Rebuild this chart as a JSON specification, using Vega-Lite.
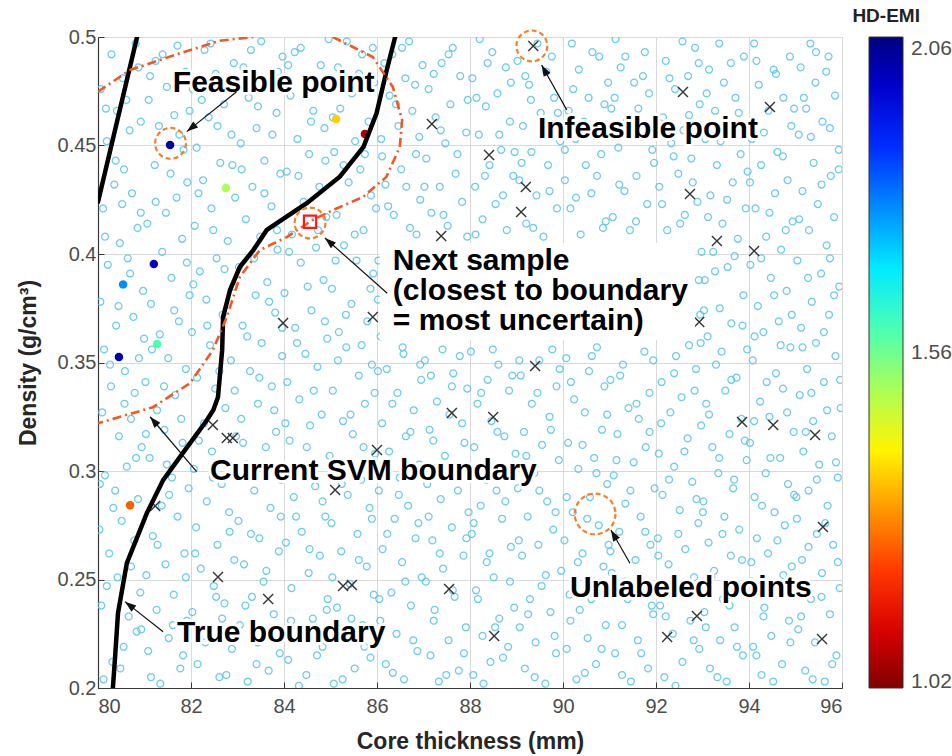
{
"$schema":"https://vega.github.io/schema/vega-lite/v6.json",
"width":744,"height":651,
"autosize":{"type":"none"},
"padding":{"left":98,"top":37,"right":110,"bottom":68},
"background":"white",
"config":{
 "view":{"stroke":null},
 "font":"Liberation Sans",
 "axis":{"gridColor":"#d9d9d9","gridWidth":1,"domainColor":"#3a3a3a","domainWidth":1.2,"tickColor":"#3a3a3a","tickSize":-6,"labelFont":"Liberation Sans","labelFontSize":20,"labelColor":"#4d4d4d","titleFont":"Liberation Sans","titleFontSize":23,"titleFontWeight":"bold","titleColor":"#262626"},
 "legend":{"orient":"none","legendX":771,"legendY":0,"gradientLength":651,"gradientThickness":34}
},
"datasets":{
"unlabeled":[
{"x":80.12,"y":0.204},{"x":80.55,"y":0.219},{"x":80.83,"y":0.226},{"x":80.31,"y":0.212},{"x":80.07,"y":0.238},{"x":80.66,"y":0.233},{"x":80.42,"y":0.251},{"x":80.91,"y":0.244},{"x":80.24,"y":0.262},{"x":80.78,"y":0.268},{"x":80.51,"y":0.277},{"x":80.03,"y":0.273},{"x":80.37,"y":0.291},{"x":80.86,"y":0.287},{"x":80.15,"y":0.298},{"x":80.62,"y":0.302},{"x":80.45,"y":0.316},{"x":80.94,"y":0.311},{"x":80.09,"y":0.327},{"x":80.71,"y":0.324},{"x":80.28,"y":0.339},{"x":80.58,"y":0.346},{"x":80.88,"y":0.352},{"x":80.13,"y":0.356},{"x":80.39,"y":0.367},{"x":80.76,"y":0.371},{"x":80.05,"y":0.378},{"x":80.97,"y":0.383},{"x":80.21,"y":0.395},{"x":80.64,"y":0.398},{"x":80.47,"y":0.405},{"x":80.85,"y":0.412},{"x":80.11,"y":0.421},{"x":80.35,"y":0.432},{"x":80.73,"y":0.428},{"x":80.56,"y":0.439},{"x":80.19,"y":0.452},{"x":80.68,"y":0.457},{"x":80.41,"y":0.466},{"x":80.92,"y":0.461},{"x":80.06,"y":0.476},{"x":80.53,"y":0.481},{"x":80.29,"y":0.492},{"x":80.81,"y":0.497},
{"x":81.34,"y":0.202},{"x":81.77,"y":0.209},{"x":81.08,"y":0.217},{"x":81.52,"y":0.223},{"x":81.91,"y":0.231},{"x":81.26,"y":0.236},{"x":81.63,"y":0.243},{"x":81.04,"y":0.252},{"x":81.45,"y":0.257},{"x":81.86,"y":0.262},{"x":81.18,"y":0.270},{"x":81.71,"y":0.279},{"x":81.37,"y":0.284},{"x":81.95,"y":0.292},{"x":81.59,"y":0.297},{"x":81.11,"y":0.306},{"x":81.82,"y":0.313},{"x":81.43,"y":0.319},{"x":81.27,"y":0.328},{"x":81.66,"y":0.335},{"x":81.02,"y":0.341},{"x":81.89,"y":0.347},{"x":81.51,"y":0.352},{"x":81.33,"y":0.363},{"x":81.74,"y":0.369},{"x":81.14,"y":0.377},{"x":81.97,"y":0.381},{"x":81.58,"y":0.389},{"x":81.38,"y":0.401},{"x":81.81,"y":0.407},{"x":81.06,"y":0.414},{"x":81.46,"y":0.419},{"x":81.69,"y":0.426},{"x":81.92,"y":0.433},{"x":81.22,"y":0.441},{"x":81.84,"y":0.448},{"x":81.31,"y":0.459},{"x":81.64,"y":0.464},{"x":81.09,"y":0.471},{"x":81.48,"y":0.477},{"x":81.88,"y":0.484},{"x":81.24,"y":0.489},{"x":81.71,"y":0.496},
{"x":82.61,"y":0.205},{"x":82.14,"y":0.211},{"x":82.88,"y":0.218},{"x":82.39,"y":0.227},{"x":82.03,"y":0.235},{"x":82.72,"y":0.239},{"x":82.49,"y":0.247},{"x":82.21,"y":0.255},{"x":82.93,"y":0.259},{"x":82.57,"y":0.266},{"x":82.11,"y":0.274},{"x":82.82,"y":0.281},{"x":82.34,"y":0.286},{"x":82.66,"y":0.294},{"x":82.06,"y":0.301},{"x":82.45,"y":0.309},{"x":82.97,"y":0.316},{"x":82.28,"y":0.322},{"x":82.74,"y":0.329},{"x":82.52,"y":0.338},{"x":82.13,"y":0.343},{"x":82.86,"y":0.351},{"x":82.41,"y":0.358},{"x":82.02,"y":0.364},{"x":82.68,"y":0.372},{"x":82.33,"y":0.379},{"x":82.91,"y":0.385},{"x":82.19,"y":0.392},{"x":82.55,"y":0.398},{"x":82.79,"y":0.406},{"x":82.08,"y":0.413},{"x":82.44,"y":0.421},{"x":82.95,"y":0.426},{"x":82.26,"y":0.434},{"x":82.63,"y":0.442},{"x":82.12,"y":0.449},{"x":82.87,"y":0.455},{"x":82.38,"y":0.463},{"x":82.71,"y":0.469},{"x":82.04,"y":0.476},{"x":82.53,"y":0.483},{"x":82.92,"y":0.488},{"x":82.29,"y":0.494},
{"x":83.22,"y":0.203},{"x":83.67,"y":0.208},{"x":83.91,"y":0.216},{"x":83.43,"y":0.221},{"x":83.05,"y":0.229},{"x":83.78,"y":0.234},{"x":83.31,"y":0.242},{"x":83.56,"y":0.249},{"x":83.14,"y":0.257},{"x":83.89,"y":0.263},{"x":83.47,"y":0.269},{"x":83.02,"y":0.277},{"x":83.71,"y":0.283},{"x":83.36,"y":0.291},{"x":83.94,"y":0.296},{"x":83.19,"y":0.303},{"x":83.61,"y":0.311},{"x":83.83,"y":0.318},{"x":83.08,"y":0.324},{"x":83.44,"y":0.331},{"x":83.74,"y":0.339},{"x":83.27,"y":0.346},{"x":83.96,"y":0.353},{"x":83.52,"y":0.359},{"x":83.11,"y":0.367},{"x":83.81,"y":0.373},{"x":83.39,"y":0.381},{"x":83.64,"y":0.387},{"x":83.03,"y":0.394},{"x":83.86,"y":0.402},{"x":83.49,"y":0.408},{"x":83.18,"y":0.416},{"x":83.73,"y":0.422},{"x":83.32,"y":0.431},{"x":83.92,"y":0.437},{"x":83.58,"y":0.443},{"x":83.07,"y":0.451},{"x":83.41,"y":0.458},{"x":83.84,"y":0.465},{"x":83.24,"y":0.472},{"x":83.66,"y":0.479},{"x":83.13,"y":0.486},{"x":83.97,"y":0.491},{"x":83.51,"y":0.498},
{"x":84.48,"y":0.206},{"x":84.09,"y":0.213},{"x":84.83,"y":0.219},{"x":84.27,"y":0.226},{"x":84.62,"y":0.232},{"x":84.94,"y":0.241},{"x":84.16,"y":0.246},{"x":84.53,"y":0.253},{"x":84.77,"y":0.261},{"x":84.04,"y":0.267},{"x":84.38,"y":0.272},{"x":84.89,"y":0.279},{"x":84.21,"y":0.288},{"x":84.67,"y":0.293},{"x":84.43,"y":0.299},{"x":84.98,"y":0.307},{"x":84.12,"y":0.314},{"x":84.56,"y":0.321},{"x":84.81,"y":0.326},{"x":84.33,"y":0.333},{"x":84.07,"y":0.341},{"x":84.72,"y":0.348},{"x":84.46,"y":0.354},{"x":84.93,"y":0.361},{"x":84.24,"y":0.366},{"x":84.59,"y":0.374},{"x":84.01,"y":0.382},{"x":84.85,"y":0.388},{"x":84.36,"y":0.396},{"x":84.69,"y":0.403},{"x":84.17,"y":0.409},{"x":84.91,"y":0.417},{"x":84.42,"y":0.424},{"x":84.76,"y":0.431},{"x":84.06,"y":0.438},{"x":84.54,"y":0.446},{"x":84.29,"y":0.453},{"x":84.87,"y":0.458},{"x":84.63,"y":0.466},{"x":84.14,"y":0.473},{"x":84.47,"y":0.481},{"x":84.79,"y":0.487},{"x":84.23,"y":0.493},{"x":84.96,"y":0.499},
{"x":85.07,"y":0.202},{"x":85.52,"y":0.209},{"x":85.86,"y":0.214},{"x":85.31,"y":0.222},{"x":85.69,"y":0.229},{"x":85.14,"y":0.237},{"x":85.93,"y":0.243},{"x":85.42,"y":0.248},{"x":85.78,"y":0.256},{"x":85.23,"y":0.263},{"x":85.58,"y":0.271},{"x":85.02,"y":0.276},{"x":85.84,"y":0.283},{"x":85.37,"y":0.289},{"x":85.66,"y":0.296},{"x":85.11,"y":0.304},{"x":85.96,"y":0.308},{"x":85.48,"y":0.317},{"x":85.27,"y":0.323},{"x":85.74,"y":0.331},{"x":85.05,"y":0.337},{"x":85.61,"y":0.344},{"x":85.89,"y":0.349},{"x":85.34,"y":0.357},{"x":85.18,"y":0.364},{"x":85.79,"y":0.369},{"x":85.45,"y":0.377},{"x":85.03,"y":0.384},{"x":85.92,"y":0.391},{"x":85.56,"y":0.397},{"x":85.29,"y":0.404},{"x":85.71,"y":0.411},{"x":85.13,"y":0.418},{"x":85.87,"y":0.427},{"x":85.39,"y":0.433},{"x":85.64,"y":0.439},{"x":85.08,"y":0.447},{"x":85.53,"y":0.452},{"x":85.82,"y":0.461},{"x":85.21,"y":0.467},{"x":85.46,"y":0.474},{"x":85.94,"y":0.479},{"x":85.16,"y":0.486},{"x":85.68,"y":0.492},{"x":85.35,"y":0.498},
{"x":86.58,"y":0.204},{"x":86.19,"y":0.211},{"x":86.87,"y":0.217},{"x":86.42,"y":0.225},{"x":86.07,"y":0.231},{"x":86.73,"y":0.238},{"x":86.31,"y":0.244},{"x":86.96,"y":0.251},{"x":86.54,"y":0.258},{"x":86.12,"y":0.264},{"x":86.83,"y":0.269},{"x":86.38,"y":0.278},{"x":86.67,"y":0.284},{"x":86.04,"y":0.291},{"x":86.49,"y":0.297},{"x":86.91,"y":0.303},{"x":86.26,"y":0.309},{"x":86.62,"y":0.316},{"x":86.11,"y":0.322},{"x":86.79,"y":0.328},{"x":86.44,"y":0.336},{"x":86.95,"y":0.342},{"x":86.21,"y":0.347},{"x":86.57,"y":0.354},{"x":86.08,"y":0.362},{"x":86.02,"y":0.379},{"x":86.03,"y":0.397},{"x":86.71,"y":0.412},{"x":86.36,"y":0.418},{"x":86.93,"y":0.425},{"x":86.18,"y":0.432},{"x":86.52,"y":0.439},{"x":86.84,"y":0.446},{"x":86.09,"y":0.453},{"x":86.46,"y":0.459},{"x":86.76,"y":0.466},{"x":86.27,"y":0.473},{"x":86.61,"y":0.481},{"x":86.98,"y":0.487},{"x":86.33,"y":0.492},{"x":86.69,"y":0.498},
{"x":87.33,"y":0.203},{"x":87.76,"y":0.208},{"x":87.15,"y":0.215},{"x":87.54,"y":0.222},{"x":87.91,"y":0.228},{"x":87.24,"y":0.236},{"x":87.67,"y":0.242},{"x":87.05,"y":0.249},{"x":87.42,"y":0.255},{"x":87.86,"y":0.261},{"x":87.19,"y":0.268},{"x":87.61,"y":0.274},{"x":87.97,"y":0.281},{"x":87.37,"y":0.287},{"x":87.08,"y":0.294},{"x":87.72,"y":0.301},{"x":87.46,"y":0.307},{"x":87.88,"y":0.313},{"x":87.13,"y":0.319},{"x":87.56,"y":0.326},{"x":87.29,"y":0.332},{"x":87.94,"y":0.338},{"x":87.64,"y":0.345},{"x":87.03,"y":0.351},{"x":87.41,"y":0.356},{"x":87.52,"y":0.413},{"x":87.17,"y":0.419},{"x":87.83,"y":0.424},{"x":87.35,"y":0.431},{"x":87.69,"y":0.437},{"x":87.06,"y":0.444},{"x":87.47,"y":0.451},{"x":87.92,"y":0.456},{"x":87.26,"y":0.463},{"x":87.58,"y":0.469},{"x":87.11,"y":0.476},{"x":87.79,"y":0.482},{"x":87.39,"y":0.488},{"x":87.63,"y":0.495},
{"x":88.07,"y":0.206},{"x":88.44,"y":0.212},{"x":88.82,"y":0.219},{"x":88.27,"y":0.224},{"x":88.63,"y":0.232},{"x":88.95,"y":0.237},{"x":88.13,"y":0.245},{"x":88.51,"y":0.251},{"x":88.36,"y":0.258},{"x":88.88,"y":0.265},{"x":88.04,"y":0.271},{"x":88.69,"y":0.278},{"x":88.23,"y":0.284},{"x":88.57,"y":0.291},{"x":88.92,"y":0.297},{"x":88.31,"y":0.303},{"x":88.09,"y":0.311},{"x":88.74,"y":0.316},{"x":88.46,"y":0.323},{"x":88.16,"y":0.331},{"x":88.84,"y":0.337},{"x":88.38,"y":0.342},{"x":88.61,"y":0.349},{"x":88.02,"y":0.355},{"x":88.79,"y":0.411},{"x":88.27,"y":0.416},{"x":88.55,"y":0.423},{"x":88.11,"y":0.431},{"x":88.93,"y":0.436},{"x":88.42,"y":0.441},{"x":88.67,"y":0.448},{"x":88.19,"y":0.455},{"x":88.86,"y":0.461},{"x":88.34,"y":0.468},{"x":88.59,"y":0.474},{"x":88.05,"y":0.481},{"x":88.77,"y":0.486},{"x":88.48,"y":0.493},{"x":88.21,"y":0.499},
{"x":89.62,"y":0.202},{"x":89.18,"y":0.209},{"x":89.85,"y":0.216},{"x":89.41,"y":0.221},{"x":89.07,"y":0.228},{"x":89.73,"y":0.235},{"x":89.29,"y":0.241},{"x":89.54,"y":0.247},{"x":89.96,"y":0.254},{"x":89.12,"y":0.261},{"x":89.47,"y":0.266},{"x":89.79,"y":0.273},{"x":89.24,"y":0.279},{"x":89.66,"y":0.286},{"x":89.03,"y":0.292},{"x":89.38,"y":0.299},{"x":89.91,"y":0.305},{"x":89.55,"y":0.312},{"x":89.16,"y":0.318},{"x":89.71,"y":0.325},{"x":89.33,"y":0.331},{"x":89.86,"y":0.339},{"x":89.09,"y":0.344},{"x":89.49,"y":0.351},{"x":89.77,"y":0.356},{"x":89.58,"y":0.408},{"x":89.21,"y":0.414},{"x":89.87,"y":0.421},{"x":89.43,"y":0.427},{"x":89.06,"y":0.434},{"x":89.68,"y":0.441},{"x":89.32,"y":0.447},{"x":89.94,"y":0.452},{"x":89.14,"y":0.459},{"x":89.52,"y":0.465},{"x":89.81,"y":0.472},{"x":89.27,"y":0.478},{"x":89.64,"y":0.484},{"x":89.02,"y":0.489},{"x":89.45,"y":0.497},
{"x":90.29,"y":0.204},{"x":90.71,"y":0.211},{"x":90.08,"y":0.218},{"x":90.53,"y":0.223},{"x":90.92,"y":0.229},{"x":90.36,"y":0.236},{"x":90.14,"y":0.243},{"x":90.64,"y":0.249},{"x":90.87,"y":0.256},{"x":90.42,"y":0.262},{"x":90.03,"y":0.268},{"x":90.77,"y":0.275},{"x":90.21,"y":0.281},{"x":90.58,"y":0.288},{"x":90.95,"y":0.294},{"x":90.33,"y":0.301},{"x":90.67,"y":0.306},{"x":90.11,"y":0.313},{"x":90.84,"y":0.319},{"x":90.47,"y":0.327},{"x":90.24,"y":0.333},{"x":90.89,"y":0.339},{"x":90.56,"y":0.346},{"x":90.07,"y":0.352},{"x":90.73,"y":0.357},{"x":90.38,"y":0.409},{"x":90.92,"y":0.415},{"x":90.16,"y":0.421},{"x":90.61,"y":0.428},{"x":90.04,"y":0.434},{"x":90.49,"y":0.441},{"x":90.82,"y":0.446},{"x":90.27,"y":0.453},{"x":90.69,"y":0.459},{"x":90.12,"y":0.466},{"x":90.55,"y":0.472},{"x":90.97,"y":0.479},{"x":90.34,"y":0.485},{"x":90.78,"y":0.491},{"x":90.19,"y":0.497},
{"x":91.46,"y":0.203},{"x":91.83,"y":0.209},{"x":91.12,"y":0.216},{"x":91.61,"y":0.222},{"x":91.27,"y":0.229},{"x":91.94,"y":0.234},{"x":91.39,"y":0.241},{"x":91.72,"y":0.248},{"x":91.05,"y":0.253},{"x":91.56,"y":0.259},{"x":91.88,"y":0.266},{"x":91.21,"y":0.272},{"x":91.67,"y":0.279},{"x":91.34,"y":0.285},{"x":91.97,"y":0.292},{"x":91.09,"y":0.298},{"x":91.52,"y":0.304},{"x":91.78,"y":0.311},{"x":91.17,"y":0.317},{"x":91.63,"y":0.324},{"x":91.41,"y":0.329},{"x":91.86,"y":0.336},{"x":91.02,"y":0.342},{"x":91.29,"y":0.349},{"x":91.75,"y":0.355},{"x":91.44,"y":0.411},{"x":91.07,"y":0.417},{"x":91.81,"y":0.423},{"x":91.32,"y":0.429},{"x":91.58,"y":0.436},{"x":91.96,"y":0.442},{"x":91.19,"y":0.449},{"x":91.69,"y":0.454},{"x":91.37,"y":0.461},{"x":91.04,"y":0.467},{"x":91.85,"y":0.474},{"x":91.53,"y":0.479},{"x":91.24,"y":0.486},{"x":91.76,"y":0.493},{"x":91.13,"y":0.499},
{"x":92.18,"y":0.205},{"x":92.57,"y":0.212},{"x":92.93,"y":0.218},{"x":92.36,"y":0.225},{"x":92.74,"y":0.231},{"x":92.09,"y":0.238},{"x":92.45,"y":0.244},{"x":92.82,"y":0.251},{"x":92.27,"y":0.257},{"x":92.63,"y":0.264},{"x":92.04,"y":0.269},{"x":92.91,"y":0.276},{"x":92.51,"y":0.282},{"x":92.14,"y":0.289},{"x":92.78,"y":0.295},{"x":92.39,"y":0.302},{"x":92.06,"y":0.308},{"x":92.68,"y":0.315},{"x":92.97,"y":0.321},{"x":92.31,"y":0.327},{"x":92.55,"y":0.334},{"x":92.12,"y":0.341},{"x":92.86,"y":0.347},{"x":92.43,"y":0.353},{"x":92.71,"y":0.358},{"x":92.95,"y":0.372},{"x":92.92,"y":0.388},{"x":92.98,"y":0.401},{"x":92.24,"y":0.411},{"x":92.62,"y":0.418},{"x":92.89,"y":0.424},{"x":92.07,"y":0.431},{"x":92.48,"y":0.437},{"x":92.76,"y":0.444},{"x":92.33,"y":0.451},{"x":92.59,"y":0.457},{"x":92.15,"y":0.463},{"x":92.94,"y":0.469},{"x":92.41,"y":0.476},{"x":92.69,"y":0.482},{"x":92.21,"y":0.489},{"x":92.84,"y":0.495},
{"x":93.52,"y":0.203},{"x":93.16,"y":0.209},{"x":93.87,"y":0.215},{"x":93.38,"y":0.222},{"x":93.69,"y":0.228},{"x":93.04,"y":0.235},{"x":93.44,"y":0.241},{"x":93.91,"y":0.247},{"x":93.25,"y":0.254},{"x":93.61,"y":0.261},{"x":93.13,"y":0.267},{"x":93.79,"y":0.273},{"x":93.47,"y":0.279},{"x":93.02,"y":0.286},{"x":93.66,"y":0.292},{"x":93.34,"y":0.299},{"x":93.95,"y":0.305},{"x":93.21,"y":0.311},{"x":93.58,"y":0.317},{"x":93.84,"y":0.324},{"x":93.08,"y":0.331},{"x":93.49,"y":0.337},{"x":93.73,"y":0.343},{"x":93.29,"y":0.349},{"x":93.96,"y":0.356},{"x":93.11,"y":0.362},{"x":93.62,"y":0.368},{"x":93.37,"y":0.375},{"x":93.88,"y":0.381},{"x":93.05,"y":0.388},{"x":93.54,"y":0.394},{"x":93.23,"y":0.401},{"x":93.76,"y":0.407},{"x":93.43,"y":0.414},{"x":93.93,"y":0.421},{"x":93.17,"y":0.427},{"x":93.65,"y":0.433},{"x":93.31,"y":0.441},{"x":93.82,"y":0.446},{"x":93.06,"y":0.453},{"x":93.57,"y":0.459},{"x":93.27,"y":0.466},{"x":93.71,"y":0.472},{"x":93.46,"y":0.479},{"x":93.14,"y":0.485},{"x":93.89,"y":0.491},{"x":93.36,"y":0.497},
{"x":94.27,"y":0.206},{"x":94.71,"y":0.211},{"x":94.09,"y":0.219},{"x":94.48,"y":0.224},{"x":94.86,"y":0.231},{"x":94.33,"y":0.237},{"x":94.62,"y":0.243},{"x":94.04,"y":0.249},{"x":94.92,"y":0.256},{"x":94.41,"y":0.262},{"x":94.17,"y":0.269},{"x":94.77,"y":0.275},{"x":94.55,"y":0.281},{"x":94.12,"y":0.288},{"x":94.84,"y":0.294},{"x":94.36,"y":0.299},{"x":94.67,"y":0.306},{"x":94.02,"y":0.313},{"x":94.96,"y":0.318},{"x":94.44,"y":0.325},{"x":94.24,"y":0.332},{"x":94.73,"y":0.338},{"x":94.58,"y":0.345},{"x":94.08,"y":0.351},{"x":94.89,"y":0.357},{"x":94.31,"y":0.364},{"x":94.64,"y":0.369},{"x":94.19,"y":0.376},{"x":94.81,"y":0.383},{"x":94.47,"y":0.389},{"x":94.03,"y":0.395},{"x":94.69,"y":0.402},{"x":94.37,"y":0.408},{"x":94.94,"y":0.415},{"x":94.14,"y":0.421},{"x":94.56,"y":0.428},{"x":94.83,"y":0.434},{"x":94.26,"y":0.441},{"x":94.61,"y":0.447},{"x":94.06,"y":0.453},{"x":94.91,"y":0.459},{"x":94.42,"y":0.466},{"x":94.74,"y":0.472},{"x":94.21,"y":0.478},{"x":94.53,"y":0.485},{"x":94.88,"y":0.491},{"x":94.11,"y":0.497},
{"x":95.63,"y":0.203},{"x":95.21,"y":0.208},{"x":95.88,"y":0.215},{"x":95.42,"y":0.221},{"x":95.06,"y":0.227},{"x":95.74,"y":0.234},{"x":95.33,"y":0.241},{"x":95.95,"y":0.246},{"x":95.57,"y":0.253},{"x":95.14,"y":0.259},{"x":95.81,"y":0.266},{"x":95.46,"y":0.271},{"x":95.03,"y":0.278},{"x":95.69,"y":0.284},{"x":95.28,"y":0.291},{"x":95.91,"y":0.297},{"x":95.51,"y":0.303},{"x":95.17,"y":0.309},{"x":95.78,"y":0.316},{"x":95.38,"y":0.323},{"x":95.97,"y":0.329},{"x":95.09,"y":0.335},{"x":95.61,"y":0.341},{"x":95.25,"y":0.347},{"x":95.86,"y":0.353},{"x":95.44,"y":0.359},{"x":95.12,"y":0.366},{"x":95.72,"y":0.372},{"x":95.35,"y":0.378},{"x":95.94,"y":0.385},{"x":95.55,"y":0.391},{"x":95.04,"y":0.397},{"x":95.67,"y":0.404},{"x":95.29,"y":0.411},{"x":95.83,"y":0.417},{"x":95.48,"y":0.423},{"x":95.15,"y":0.429},{"x":95.76,"y":0.436},{"x":95.39,"y":0.442},{"x":95.93,"y":0.448},{"x":95.07,"y":0.455},{"x":95.58,"y":0.461},{"x":95.23,"y":0.467},{"x":95.85,"y":0.473},{"x":95.43,"y":0.479},{"x":95.11,"y":0.486},{"x":95.71,"y":0.491},{"x":95.32,"y":0.497},
{"x":80.48,"y":0.209},{"x":80.93,"y":0.227},{"x":80.19,"y":0.247},{"x":80.71,"y":0.256},{"x":80.33,"y":0.283},{"x":80.04,"y":0.294},{"x":80.82,"y":0.306},{"x":80.57,"y":0.331},{"x":80.26,"y":0.349},{"x":80.99,"y":0.361},{"x":80.44,"y":0.376},{"x":80.69,"y":0.391},{"x":80.15,"y":0.408},{"x":80.92,"y":0.419},{"x":80.38,"y":0.443},{"x":80.61,"y":0.471},{"x":80.87,"y":0.486},{"x":80.17,"y":0.467},{"x":80.52,"y":0.423},{"x":80.79,"y":0.336},
{"x":81.14,"y":0.205},{"x":81.61,"y":0.229},{"x":81.89,"y":0.251},{"x":81.28,"y":0.266},{"x":81.53,"y":0.289},{"x":81.03,"y":0.317},{"x":81.79,"y":0.324},{"x":81.42,"y":0.339},{"x":81.16,"y":0.356},{"x":81.64,"y":0.374},{"x":81.91,"y":0.396},{"x":81.24,"y":0.424},{"x":81.56,"y":0.437},{"x":81.75,"y":0.455},{"x":81.12,"y":0.482},{"x":81.39,"y":0.492},{"x":81.97,"y":0.466},{"x":81.48,"y":0.303},{"x":81.83,"y":0.215},
{"x":82.76,"y":0.206},{"x":82.31,"y":0.221},{"x":82.54,"y":0.242},{"x":82.09,"y":0.262},{"x":82.83,"y":0.272},{"x":82.47,"y":0.297},{"x":82.17,"y":0.314},{"x":82.94,"y":0.337},{"x":82.61,"y":0.346},{"x":82.35,"y":0.367},{"x":82.05,"y":0.386},{"x":82.72,"y":0.393},{"x":82.48,"y":0.411},{"x":82.16,"y":0.428},{"x":82.89,"y":0.441},{"x":82.57,"y":0.459},{"x":82.23,"y":0.471},{"x":82.81,"y":0.479},{"x":82.42,"y":0.497},{"x":82.67,"y":0.232},
{"x":83.41,"y":0.211},{"x":83.84,"y":0.225},{"x":83.17,"y":0.238},{"x":83.62,"y":0.254},{"x":83.29,"y":0.271},{"x":83.93,"y":0.279},{"x":83.54,"y":0.302},{"x":83.12,"y":0.313},{"x":83.79,"y":0.328},{"x":83.47,"y":0.343},{"x":83.21,"y":0.362},{"x":83.96,"y":0.366},{"x":83.68,"y":0.378},{"x":83.36,"y":0.398},{"x":83.85,"y":0.411},{"x":83.58,"y":0.428},{"x":83.09,"y":0.439},{"x":83.75,"y":0.455},{"x":83.44,"y":0.468},{"x":83.87,"y":0.484},{"x":83.29,"y":0.494},
{"x":84.32,"y":0.201},{"x":84.71,"y":0.215},{"x":84.15,"y":0.231},{"x":84.92,"y":0.236},{"x":84.55,"y":0.264},{"x":84.26,"y":0.279},{"x":84.83,"y":0.286},{"x":84.49,"y":0.311},{"x":84.03,"y":0.322},{"x":84.64,"y":0.337},{"x":84.28,"y":0.359},{"x":84.88,"y":0.369},{"x":84.51,"y":0.385},{"x":84.11,"y":0.401},{"x":84.73,"y":0.411},{"x":84.31,"y":0.436},{"x":84.89,"y":0.443},{"x":84.58,"y":0.461},{"x":84.09,"y":0.487},{"x":84.36,"y":0.495},{"x":84.72,"y":0.476},
{"x":85.26,"y":0.204},{"x":85.73,"y":0.219},{"x":85.45,"y":0.232},{"x":85.04,"y":0.251},{"x":85.61,"y":0.259},{"x":85.89,"y":0.278},{"x":85.24,"y":0.294},{"x":85.71,"y":0.311},{"x":85.43,"y":0.326},{"x":85.95,"y":0.336},{"x":85.16,"y":0.351},{"x":85.67,"y":0.358},{"x":85.33,"y":0.372},{"x":85.86,"y":0.384},{"x":85.11,"y":0.397},{"x":85.52,"y":0.409},{"x":85.98,"y":0.421},{"x":85.28,"y":0.441},{"x":85.74,"y":0.446},{"x":85.05,"y":0.463},{"x":85.61,"y":0.483},{"x":85.91,"y":0.495},
{"x":86.34,"y":0.207},{"x":86.78,"y":0.222},{"x":86.05,"y":0.241},{"x":86.61,"y":0.249},{"x":86.22,"y":0.271},{"x":86.89,"y":0.276},{"x":86.47,"y":0.289},{"x":86.14,"y":0.303},{"x":86.72,"y":0.318},{"x":86.33,"y":0.331},{"x":86.93,"y":0.349},{"x":86.55,"y":0.357},{"x":86.02,"y":0.346},{"x":86.85,"y":0.409},{"x":86.24,"y":0.422},{"x":86.63,"y":0.431},{"x":86.11,"y":0.445},{"x":86.91,"y":0.454},{"x":86.41,"y":0.469},{"x":86.82,"y":0.478},{"x":86.16,"y":0.488},{"x":86.54,"y":0.495},
{"x":87.49,"y":0.206},{"x":87.87,"y":0.216},{"x":87.22,"y":0.231},{"x":87.63,"y":0.245},{"x":87.35,"y":0.262},{"x":87.92,"y":0.269},{"x":87.11,"y":0.279},{"x":87.74,"y":0.291},{"x":87.47,"y":0.298},{"x":87.21,"y":0.314},{"x":87.83,"y":0.322},{"x":87.61,"y":0.339},{"x":87.16,"y":0.344},{"x":87.78,"y":0.353},{"x":87.94,"y":0.408},{"x":87.43,"y":0.418},{"x":87.02,"y":0.431},{"x":87.73,"y":0.446},{"x":87.37,"y":0.457},{"x":87.95,"y":0.471},{"x":87.22,"y":0.483},{"x":87.54,"y":0.492},
{"x":88.29,"y":0.202},{"x":88.71,"y":0.214},{"x":88.54,"y":0.228},{"x":88.17,"y":0.241},{"x":88.86,"y":0.249},{"x":88.42,"y":0.262},{"x":88.08,"y":0.276},{"x":88.76,"y":0.286},{"x":88.35,"y":0.296},{"x":88.98,"y":0.308},{"x":88.59,"y":0.318},{"x":88.24,"y":0.336},{"x":88.91,"y":0.344},{"x":88.49,"y":0.356},{"x":88.12,"y":0.409},{"x":88.71,"y":0.427},{"x":88.32,"y":0.436},{"x":88.96,"y":0.447},{"x":88.63,"y":0.455},{"x":88.14,"y":0.472},{"x":88.88,"y":0.479},{"x":88.38,"y":0.488},
{"x":89.39,"y":0.205},{"x":89.82,"y":0.224},{"x":89.25,"y":0.234},{"x":89.63,"y":0.252},{"x":89.05,"y":0.268},{"x":89.84,"y":0.281},{"x":89.49,"y":0.291},{"x":89.21,"y":0.307},{"x":89.74,"y":0.319},{"x":89.45,"y":0.336},{"x":89.06,"y":0.351},{"x":89.93,"y":0.347},{"x":89.36,"y":0.412},{"x":89.71,"y":0.429},{"x":89.11,"y":0.442},{"x":89.58,"y":0.456},{"x":89.89,"y":0.465},{"x":89.31,"y":0.471},{"x":89.76,"y":0.491},{"x":89.19,"y":0.482},
{"x":90.47,"y":0.207},{"x":90.83,"y":0.218},{"x":90.16,"y":0.231},{"x":90.61,"y":0.241},{"x":90.32,"y":0.258},{"x":90.98,"y":0.266},{"x":90.52,"y":0.278},{"x":90.08,"y":0.288},{"x":90.72,"y":0.299},{"x":90.42,"y":0.312},{"x":90.95,"y":0.326},{"x":90.17,"y":0.341},{"x":90.62,"y":0.353},{"x":90.86,"y":0.412},{"x":90.28,"y":0.426},{"x":90.73,"y":0.436},{"x":90.04,"y":0.448},{"x":90.45,"y":0.461},{"x":90.89,"y":0.469},{"x":90.22,"y":0.476},{"x":90.63,"y":0.493},
{"x":91.27,"y":0.206},{"x":91.68,"y":0.216},{"x":91.91,"y":0.238},{"x":91.33,"y":0.249},{"x":91.02,"y":0.263},{"x":91.77,"y":0.272},{"x":91.45,"y":0.291},{"x":91.15,"y":0.305},{"x":91.86,"y":0.318},{"x":91.58,"y":0.331},{"x":91.23,"y":0.344},{"x":91.94,"y":0.351},{"x":91.57,"y":0.415},{"x":91.21,"y":0.432},{"x":91.92,"y":0.448},{"x":91.46,"y":0.457},{"x":91.11,"y":0.472},{"x":91.72,"y":0.482},{"x":91.34,"y":0.491},{"x":91.62,"y":0.467},
{"x":92.42,"y":0.201},{"x":92.81,"y":0.222},{"x":92.21,"y":0.233},{"x":92.65,"y":0.246},{"x":92.05,"y":0.261},{"x":92.48,"y":0.271},{"x":92.87,"y":0.287},{"x":92.28,"y":0.296},{"x":92.61,"y":0.309},{"x":92.11,"y":0.322},{"x":92.83,"y":0.337},{"x":92.39,"y":0.345},{"x":92.96,"y":0.359},{"x":92.52,"y":0.414},{"x":92.13,"y":0.423},{"x":92.79,"y":0.433},{"x":92.38,"y":0.445},{"x":92.05,"y":0.458},{"x":92.71,"y":0.464},{"x":92.29,"y":0.481},{"x":92.92,"y":0.488},{"x":92.57,"y":0.498},
{"x":93.32,"y":0.205},{"x":93.74,"y":0.219},{"x":93.07,"y":0.228},{"x":93.58,"y":0.238},{"x":93.19,"y":0.251},{"x":93.85,"y":0.259},{"x":93.43,"y":0.271},{"x":93.01,"y":0.281},{"x":93.68,"y":0.296},{"x":93.36,"y":0.306},{"x":93.91,"y":0.314},{"x":93.14,"y":0.326},{"x":93.62,"y":0.342},{"x":93.41,"y":0.355},{"x":93.86,"y":0.367},{"x":93.03,"y":0.374},{"x":93.27,"y":0.392},{"x":93.69,"y":0.399},{"x":93.12,"y":0.417},{"x":93.53,"y":0.425},{"x":93.97,"y":0.438},{"x":93.39,"y":0.452},{"x":93.78,"y":0.465},{"x":93.09,"y":0.474},{"x":93.61,"y":0.488},
{"x":94.52,"y":0.203},{"x":94.16,"y":0.215},{"x":94.89,"y":0.221},{"x":94.31,"y":0.233},{"x":94.74,"y":0.252},{"x":94.05,"y":0.258},{"x":94.61,"y":0.268},{"x":94.28,"y":0.284},{"x":94.97,"y":0.289},{"x":94.46,"y":0.306},{"x":94.11,"y":0.323},{"x":94.82,"y":0.327},{"x":94.38,"y":0.341},{"x":94.68,"y":0.358},{"x":94.12,"y":0.362},{"x":94.92,"y":0.372},{"x":94.54,"y":0.381},{"x":94.26,"y":0.398},{"x":94.79,"y":0.411},{"x":94.44,"y":0.419},{"x":94.02,"y":0.433},{"x":94.73,"y":0.445},{"x":94.32,"y":0.456},{"x":94.97,"y":0.467},{"x":94.58,"y":0.483},{"x":94.16,"y":0.489},
{"x":95.37,"y":0.204},{"x":95.79,"y":0.211},{"x":95.12,"y":0.233},{"x":95.56,"y":0.242},{"x":95.91,"y":0.258},{"x":95.28,"y":0.265},{"x":95.64,"y":0.276},{"x":95.02,"y":0.288},{"x":95.46,"y":0.296},{"x":95.87,"y":0.304},{"x":95.22,"y":0.318},{"x":95.68,"y":0.328},{"x":95.34,"y":0.336},{"x":95.96,"y":0.342},{"x":95.15,"y":0.357},{"x":95.61,"y":0.364},{"x":95.83,"y":0.381},{"x":95.27,"y":0.389},{"x":95.74,"y":0.398},{"x":95.08,"y":0.416},{"x":95.56,"y":0.432},{"x":95.93,"y":0.439},{"x":95.33,"y":0.454},{"x":95.74,"y":0.458},{"x":95.18,"y":0.472},{"x":95.66,"y":0.484},{"x":95.44,"y":0.493}
],
"infeasible":[
{"x":82.47,"y":0.3212},{"x":82.77,"y":0.3152},{"x":82.90,"y":0.3152},{"x":83.98,"y":0.3682},{"x":85.91,"y":0.371},{"x":86.0,"y":0.3097},{"x":85.10,"y":0.2912},{"x":81.23,"y":0.2839},{"x":82.58,"y":0.2512},{"x":83.66,"y":0.241},{"x":85.27,"y":0.247},{"x":85.46,"y":0.2475},{"x":89.36,"y":0.4959},{"x":92.58,"y":0.4747},{"x":94.45,"y":0.4677},{"x":87.18,"y":0.4599},{"x":88.41,"y":0.4456},{"x":89.20,"y":0.4309},{"x":89.10,"y":0.4194},{"x":92.73,"y":0.4277},{"x":87.38,"y":0.4083},{"x":93.31,"y":0.406},{"x":94.11,"y":0.4014},{"x":92.93,"y":0.3687},{"x":89.40,"y":0.3484},{"x":87.61,"y":0.3267},{"x":88.50,"y":0.3249},{"x":93.85,"y":0.3226},{"x":94.52,"y":0.3212},{"x":95.42,"y":0.3166},{"x":95.59,"y":0.2742},{"x":87.55,"y":0.2456},{"x":88.52,"y":0.224},{"x":92.24,"y":0.2235},{"x":92.88,"y":0.2332},{"x":95.57,"y":0.2226}
],
"feasible":[
{"x":81.55,"y":0.4502,"hd":2.05},{"x":85.12,"y":0.4622,"hd":1.36},{"x":85.74,"y":0.4553,"hd":1.06},{"x":82.75,"y":0.4304,"hd":1.5},{"x":81.2,"y":0.3954,"hd":2.01},{"x":80.54,"y":0.386,"hd":1.8},{"x":80.45,"y":0.3525,"hd":2.03},{"x":81.27,"y":0.3585,"hd":1.6},{"x":80.69,"y":0.2842,"hd":1.24}
],
"truebnd":[
{"seg":"a","o":1,"x":80.0,"y":0.424},{"seg":"a","o":2,"x":80.84,"y":0.5},
{"seg":"b","o":1,"x":80.32,"y":0.2},{"seg":"b","o":2,"x":80.37,"y":0.215},{"seg":"b","o":3,"x":80.43,"y":0.2345},{"seg":"b","o":4,"x":80.62,"y":0.2575},{"seg":"b","o":5,"x":81.05,"y":0.2806},{"seg":"b","o":6,"x":81.19,"y":0.2866},{"seg":"b","o":7,"x":81.4,"y":0.2958},{"seg":"b","o":8,"x":81.76,"y":0.3064},{"seg":"b","o":9,"x":82.34,"y":0.3234},{"seg":"b","o":10,"x":82.48,"y":0.3281},{"seg":"b","o":11,"x":82.58,"y":0.334},{"seg":"b","o":12,"x":82.67,"y":0.3557},{"seg":"b","o":13,"x":82.69,"y":0.3709},{"seg":"b","o":14,"x":82.84,"y":0.3834},{"seg":"b","o":15,"x":83.05,"y":0.394},{"seg":"b","o":16,"x":83.34,"y":0.4018},{"seg":"b","o":17,"x":83.63,"y":0.4111},{"seg":"b","o":18,"x":84.49,"y":0.4234},{"seg":"b","o":19,"x":85.2,"y":0.4356},{"seg":"b","o":20,"x":85.71,"y":0.4494},{"seg":"b","o":21,"x":85.99,"y":0.4648},{"seg":"b","o":22,"x":86.21,"y":0.4848},{"seg":"b","o":23,"x":86.39,"y":0.5}
],
"svm":[
{"seg":"a","o":1,"x":80.0,"y":0.4748},{"seg":"a","o":2,"x":80.69,"y":0.4848},{"seg":"a","o":3,"x":81.76,"y":0.4925},{"seg":"a","o":4,"x":82.62,"y":0.4983},{"seg":"a","o":5,"x":83.34,"y":0.5},
{"seg":"b","o":1,"x":85.05,"y":0.5},{"seg":"b","o":2,"x":85.91,"y":0.4908},{"seg":"b","o":3,"x":86.34,"y":0.477},{"seg":"b","o":4,"x":86.54,"y":0.4617},{"seg":"b","o":5,"x":86.49,"y":0.4493},{"seg":"b","o":6,"x":86.2,"y":0.4355},{"seg":"b","o":7,"x":85.7,"y":0.4263},{"seg":"b","o":8,"x":85.05,"y":0.4202},{"seg":"b","o":9,"x":84.62,"y":0.4157},{"seg":"b","o":10,"x":84.06,"y":0.4078},{"seg":"b","o":11,"x":83.48,"y":0.4018},{"seg":"b","o":12,"x":83.05,"y":0.3894},{"seg":"b","o":13,"x":82.77,"y":0.3709},{"seg":"b","o":14,"x":82.47,"y":0.3557},{"seg":"b","o":15,"x":81.98,"y":0.3405},{"seg":"b","o":16,"x":81.18,"y":0.3294},{"seg":"b","o":17,"x":80.0,"y":0.322}
],
"nextsample":[{"x":84.56,"y":0.4149}],
"smallrings":[{"x":81.56,"y":0.451},{"x":89.33,"y":0.4959},{"x":84.56,"y":0.4143}],
"bigring":[{"x":90.69,"y":0.2802}],
"box":[{"x":86.06,"x2":92.84,"y":0.4051,"y2":0.3604}],
"labels":[
{"x":81.61,"y":0.4747,"t":"Feasible point"},
{"x":89.46,"y":0.4535,"t":"Infeasible point"},
{"x":86.34,"y":0.3926,"t":"Next sample"},
{"x":86.34,"y":0.3788,"t":"(closest to boundary"},
{"x":86.34,"y":0.365,"t":"= most uncertain)"},
{"x":82.41,"y":0.2959,"t":"Current SVM boundary"},
{"x":81.70,"y":0.2212,"t":"True boundary"},
{"x":90.15,"y":0.2419,"t":"Unlabeled points"}
],
"cbtitle":[{"x":96.95,"y":0.5069,"t":"HD-EMI"}],
"arrows":[
{"x":82.98,"y":0.4748,"x2":81.91,"y2":0.4564,"dir":231.3},
{"x":90.08,"y":0.4664,"x2":89.54,"y2":0.4871,"dir":330.9},
{"x":86.22,"y":0.3819,"x2":84.88,"y2":0.4074,"dir":311.4},
{"x":82.12,"y":0.2997,"x2":81.12,"y2":0.325,"dir":319.7},
{"x":81.40,"y":0.2259,"x2":80.58,"y2":0.2398,"dir":308},
{"x":91.44,"y":0.2575,"x2":91.03,"y2":0.2728,"dir":329.9}
]
},
"encoding":{
 "x":{"field":"x","type":"quantitative","scale":{"domain":[80,96],"nice":false,"zero":false},"axis":{"values":[80,82,84,86,88,90,92,94,96],"format":"~g","labelPadding":14,"titlePadding":14,"grid":true},"title":"Core thickness (mm)"},
 "y":{"field":"y","type":"quantitative","scale":{"domain":[0.2,0.5],"nice":false,"zero":false},"axis":{"values":[0.2,0.25,0.3,0.35,0.4,0.45,0.5],"format":"~g","labelPadding":8,"titlePadding":17,"grid":true},"title":"Density (g/cm³)"}
},
"layer":[
 {"data":{"name":"unlabeled"},"mark":{"type":"point","shape":"circle","filled":false,"stroke":"#5cc6ef","strokeWidth":1.25,"size":48,"opacity":0.9,"clip":true}},
 {"data":{"name":"infeasible"},"mark":{"type":"point","shape":"M-1,-1L1,1M1,-1L-1,1","filled":false,"stroke":"#333333","strokeWidth":1.4,"size":100,"opacity":1}},
 {"data":{"name":"feasible"},"mark":{"type":"point","shape":"circle","filled":true,"size":72,"opacity":1,"strokeWidth":0},
  "encoding":{"color":{"field":"hd","type":"quantitative","scale":{"domain":[1.01,1.1437,1.4112,1.545,1.6787,1.9462,2.08],"range":["#800000","#ff0000","#ffff00","#80ff80","#00ffff","#0000ff","#000080"],"interpolate":"rgb"},
   "legend":{"type":"gradient","title":null,"values":[1.02,1.56,2.06],"format":".2f","direction":"vertical","labelFont":"Liberation Sans","labelFontSize":21,"labelColor":"#4d4d4d","labelOffset":8,"labelOverlap":false,"gradientStrokeColor":"#333333","gradientStrokeWidth":1,"gradientLength":651,"gradientThickness":34}}}},
 {"data":{"name":"truebnd"},"mark":{"type":"line","color":"black","strokeWidth":4.5,"clip":true,"strokeCap":"round"},"encoding":{"detail":{"field":"seg"},"order":{"field":"o","type":"quantitative"}}},
 {"data":{"name":"svm"},"mark":{"type":"line","color":"#f05a22","strokeWidth":2.6,"strokeDash":[9,4,2,4],"clip":true},"encoding":{"detail":{"field":"seg"},"order":{"field":"o","type":"quantitative"}}},
 {"data":{"name":"nextsample"},"mark":{"type":"point","shape":"square","filled":false,"stroke":"#ff1a1a","strokeWidth":2.2,"size":150,"opacity":1}},
 {"data":{"name":"box"},"mark":{"type":"rect","color":"white"},"encoding":{"x2":{"field":"x2"},"y2":{"field":"y2"}}},
 {"data":{"name":"labels"},"mark":{"type":"text","align":"left","baseline":"alphabetic","font":"Liberation Sans","fontSize":30,"fontWeight":"bold","stroke":"white","strokeWidth":6,"strokeJoin":"round","color":"white"},"encoding":{"text":{"field":"t"}}},
 {"data":{"name":"labels"},"mark":{"type":"text","align":"left","baseline":"alphabetic","font":"Liberation Sans","fontSize":30,"fontWeight":"bold","color":"black"},"encoding":{"text":{"field":"t"}}},
 {"data":{"name":"cbtitle"},"mark":{"type":"text","align":"center","baseline":"alphabetic","font":"Liberation Sans","fontSize":19,"fontWeight":"bold","color":"#222222","clip":false},"encoding":{"text":{"field":"t"}}},
 {"data":{"name":"smallrings"},"mark":{"type":"point","shape":"circle","filled":false,"stroke":"#f5802a","strokeWidth":2.2,"strokeDash":[5,3],"size":950,"opacity":1}},
 {"data":{"name":"bigring"},"mark":{"type":"point","shape":"circle","filled":false,"stroke":"#f5802a","strokeWidth":2.2,"strokeDash":[5,3],"size":1660,"opacity":1}},
 {"data":{"name":"arrows"},"mark":{"type":"rule","color":"#111111","strokeWidth":1.2},"encoding":{"x2":{"field":"x2"},"y2":{"field":"y2"}}},
 {"data":{"name":"arrows"},"mark":{"type":"point","shape":"M0,0L0.55,1.6L-0.55,1.6Z","filled":true,"color":"#111111","size":200,"opacity":1},"encoding":{"x":{"field":"x2","type":"quantitative"},"y":{"field":"y2","type":"quantitative"},"angle":{"field":"dir","type":"quantitative","scale":null}}}
]
}
